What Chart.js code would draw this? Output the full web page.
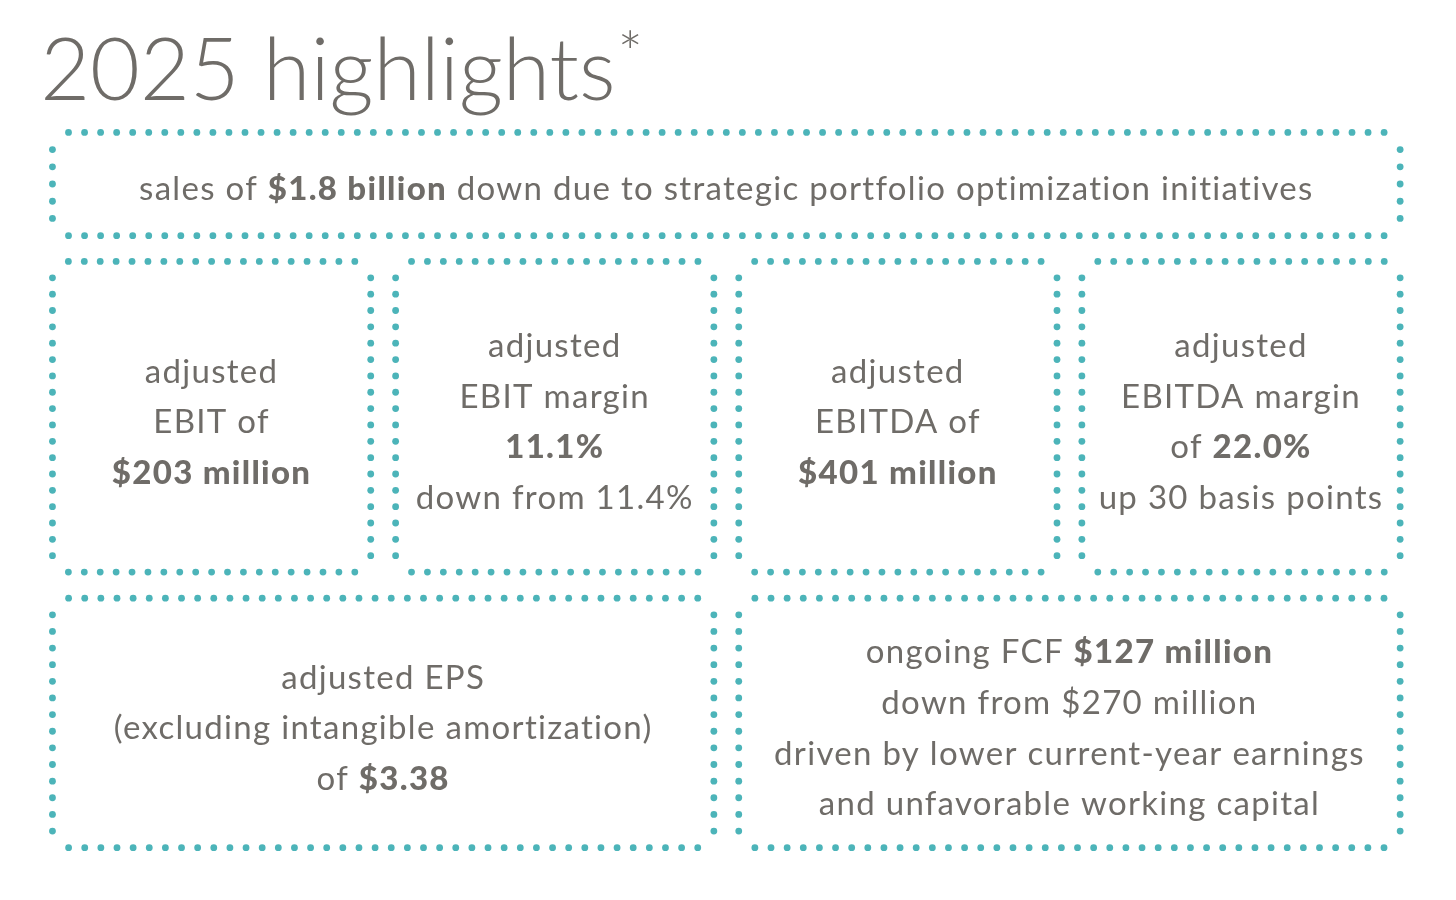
<!DOCTYPE html>
<html>
<head>
<meta charset="utf-8">
<title>2025 highlights</title>
<script src="https://cdn.jsdelivr.net/npm/chart.js@4.4.1/dist/chart.umd.min.js"></script>
<style>
  html, body { margin: 0; padding: 0; background: #ffffff; }
  #wrap { width: 1456px; height: 900px; }
</style>
</head>
<body>
<div id="wrap"><canvas id="chart" width="1456" height="900"></canvas></div>
<script>
// text content of the panel, ** marks bold runs
const title = '2025 highlights';
const titleMark = '*';
const headline = ['sales of **$1.8 billion** down due to strategic portfolio optimization initiatives'];
const middleRow = [
  ['adjusted', 'EBIT of', '**$203 million**'],
  ['adjusted', 'EBIT margin', '**11.1%**', 'down from 11.4%'],
  ['adjusted', 'EBITDA of', '**$401 million**'],
  ['adjusted', 'EBITDA margin', 'of **22.0%**', 'up 30 basis points'],
];
const bottomRow = [
  ['adjusted EPS', '(excluding intangible amortization)', 'of **$3.38**'],
  ['ongoing FCF **$127 million**', 'down from $270 million', 'driven by lower current-year earnings', 'and unfavorable working capital'],
];

const TEAL = '#4cb4b9';
const GREY = '#6f6c68';
const FONT = 'Lato, "Open Sans", sans-serif';

// panel grid (pixels on a 1456x900 canvas)
const LEFT = 49.3, RIGHT = 1403.3, GAP = 25;
const rowsY = [[130, 234], [260, 573], [599.3, 850.7]];

const colW = (RIGHT - LEFT - 3 * GAP) / 4;
const colX = (c) => LEFT + c * (colW + GAP);

// each cell: row, first column, column span, lines
const cells = [];
cells.push({ row: 0, col: 0, span: 4, lines: headline });
middleRow.forEach((lines, i) => cells.push({ row: 1, col: i, span: 1, lines }));
bottomRow.forEach((lines, i) => cells.push({ row: 2, col: i * 2, span: 2, lines }));

cells.forEach((cell) => {
  cell.x0 = colX(cell.col);
  cell.x1 = colX(cell.col + cell.span - 1) + colW;
  cell.y0 = rowsY[cell.row][0];
  cell.y1 = rowsY[cell.row][1];
});

// dotted borders, corners left empty
const dotsFor = (c) => {
  const pts = [];
  const nx = Math.round((c.x1 - c.x0) / 16.2);
  const ny = Math.round((c.y1 - c.y0) / 16.6);
  const sx = (c.x1 - c.x0) / nx;
  const sy = (c.y1 - c.y0) / ny;
  for (let i = 1; i < nx; i++) {
    pts.push({ x: c.x0 + i * sx, y: c.y0 });
    pts.push({ x: c.x0 + i * sx, y: c.y1 });
  }
  for (let j = 1; j < ny; j++) {
    pts.push({ x: c.x0, y: c.y0 + j * sy });
    pts.push({ x: c.x1, y: c.y0 + j * sy });
  }
  return pts;
};

const splitRuns = (line) => line.split('**').map((t, i) => ({ text: t, bold: i % 2 === 1 })).filter((r) => r.text);
const fontFor = (bold, size) => `${bold ? 900 : 400} ${size}px ${FONT}`;

const textPlugin = {
  id: 'panelText',
  afterDatasetsDraw(chart) {
    const { ctx, scales: { x, y } } = chart;
    ctx.save();
    ctx.fillStyle = GREY;
    ctx.textBaseline = 'alphabetic';

    // title
    ctx.textAlign = 'left';
    ctx.letterSpacing = '0px';
    ctx.font = `300 86px ${FONT}`;
    ctx.fillText(title, x.getPixelForValue(37), y.getPixelForValue(97));
    const tw = ctx.measureText(title).width;
    ctx.font = `300 60px ${FONT}`;
    ctx.fillText(titleMark, x.getPixelForValue(37) + tw + 2, y.getPixelForValue(72));

    const size = 33, lh = 51;
    ctx.letterSpacing = '1.3px';
    cells.forEach((c) => {
      const cx = x.getPixelForValue((c.x0 + c.x1) / 2);
      const cy = (c.y0 + c.y1) / 2 + 16.5;
      const n = c.lines.length;
      c.lines.forEach((line, i) => {
        const runs = splitRuns(line);
        let total = 0;
        runs.forEach((r) => { ctx.font = fontFor(r.bold, size); r.w = ctx.measureText(r.text).width; total += r.w; });
        let px = cx - total / 2;
        const py = y.getPixelForValue(cy + (i - (n - 1) / 2) * lh);
        runs.forEach((r) => {
          ctx.font = fontFor(r.bold, size);
          ctx.fillText(r.text, px, py);
          px += r.w;
        });
      });
    });
    ctx.restore();
  },
};

new Chart(document.getElementById('chart'), {
  type: 'scatter',
  data: {
    datasets: cells.map((c) => ({
      data: dotsFor(c),
      pointRadius: 3.4,
      pointHoverRadius: 3.4,
      pointBackgroundColor: TEAL,
      pointBorderWidth: 0,
    })),
  },
  options: {
    responsive: false,
    animation: false,
    devicePixelRatio: 1,
    layout: { padding: 0 },
    plugins: { legend: { display: false }, tooltip: { enabled: false } },
    scales: {
      x: { type: 'linear', min: 0, max: 1456, display: false },
      y: { type: 'linear', min: 0, max: 900, reverse: true, display: false },
    },
  },
  plugins: [textPlugin],
});
</script>
</body>
</html>
